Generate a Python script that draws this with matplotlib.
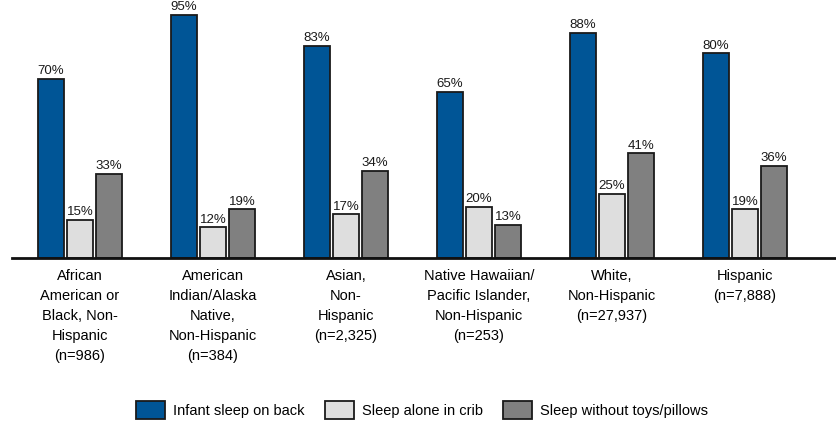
import numpy as np
import matplotlib.pyplot as plt

groups = ['African\nAmerican or\nBlack, Non-\nHispanic\n(n=986)',
          'American\nIndian/Alaska\nNative,\nNon-Hispanic\n(n=384)',
          'Asian,\nNon-\nHispanic\n(n=2,325)',
          'Native Hawaiian/\nPacific Islander,\nNon-Hispanic\n(n=253)',
          'White,\nNon-Hispanic\n(n=27,937)',
          'Hispanic\n(n=7,888)']
on_back = [70, 95, 83, 65, 88, 80]
alone_crib = [15, 12, 17, 20, 25, 19]
no_toys = [33, 19, 34, 13, 41, 36]
series_names = ['Infant sleep on back', 'Sleep alone in crib', 'Sleep without toys/pillows']
colors = ['#005596', '#DEDEDE', '#808080']

plt.rcParams['font.family'] = ['Liberation Sans', 'DejaVu Sans']

fig = plt.figure(figsize=(8.36, 4.21), dpi=100)
ax = fig.add_axes([12 / 836, 163 / 421, 824 / 836, 256 / 421])

x = np.arange(len(groups))
w = 26 / 133
step = 29 / 133
for i, (vals, c, name) in enumerate(zip([on_back, alone_crib, no_toys], colors, series_names)):
    bars = ax.bar(x + (i - 1) * step, vals, w, color=c, edgecolor='#1a1a1a', linewidth=1.3, label=name)
    for b, v in zip(bars, vals):
        ax.text(b.get_x() + b.get_width() / 2, v + 0.6, f'{v}%', ha='center', va='bottom',
                fontsize=9.5, color='#1a1a1a')

ax.set_xlim(-68 / 133, 756 / 133)
ax.set_ylim(0, 100)
ax.set_yticks([])
ax.set_xticks(x)
ax.set_xticklabels(groups, fontsize=10.5, linespacing=1.55)
ax.tick_params(axis='x', length=0, pad=8)
for s in ['top', 'right', 'left']:
    ax.spines[s].set_visible(False)
ax.spines['bottom'].set_linewidth(2)
ax.spines['bottom'].set_color('#111111')
ax.patch.set_alpha(0)

fig.legend(loc='center', bbox_to_anchor=(422 / 836, 11 / 421), ncol=3, frameon=False,
           fontsize=10.5, handlelength=2.0, handleheight=1.6, handletextpad=0.55,
           columnspacing=1.4, borderaxespad=0, borderpad=0)

fig.savefig('out.png', dpi=100)
